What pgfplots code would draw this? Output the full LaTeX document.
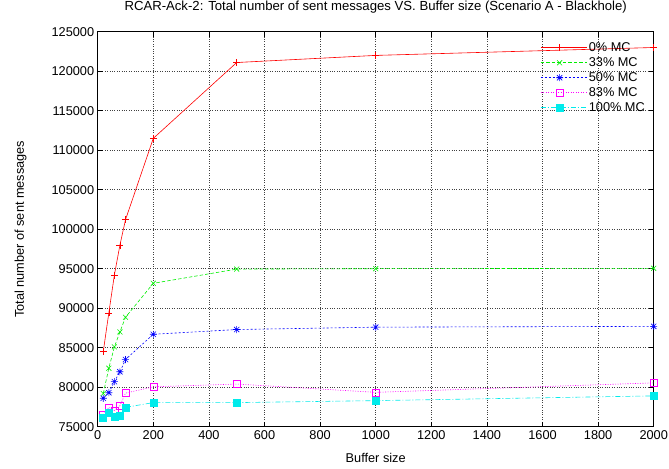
\documentclass[border=0pt]{standalone}
\usepackage{fontspec}
\setmainfont{Liberation Sans}
\usepackage{pgfplots}
\pgfplotsset{compat=1.18}
\definecolor{gpred}{RGB}{255,0,0}
\definecolor{gpgreen}{RGB}{0,238,0}
\definecolor{gpblue}{RGB}{0,0,255}
\definecolor{gpmagenta}{RGB}{255,0,255}
\definecolor{gpcyan}{RGB}{0,235,235}
\pgfdeclareplotmark{gpstar}{%
  \pgfpathmoveto{\pgfqpoint{-\pgfplotmarksize}{0pt}}\pgfpathlineto{\pgfqpoint{\pgfplotmarksize}{0pt}}%
  \pgfpathmoveto{\pgfqpoint{0pt}{-\pgfplotmarksize}}\pgfpathlineto{\pgfqpoint{0pt}{\pgfplotmarksize}}%
  \pgfpathmoveto{\pgfqpoint{-0.75\pgfplotmarksize}{-0.75\pgfplotmarksize}}\pgfpathlineto{\pgfqpoint{0.75\pgfplotmarksize}{0.75\pgfplotmarksize}}%
  \pgfpathmoveto{\pgfqpoint{-0.75\pgfplotmarksize}{0.75\pgfplotmarksize}}\pgfpathlineto{\pgfqpoint{0.75\pgfplotmarksize}{-0.75\pgfplotmarksize}}%
  \pgfusepathqstroke}
\begin{document}
\begin{tikzpicture}
\begin{axis}[
  name=ax,
  scale only axis, width=556bp, height=395bp,
  xmin=0, xmax=2000, ymin=75000, ymax=125000,
  xtick distance=200, ytick distance=5000,
  font=\fontsize{12.8}{15}\selectfont,
  /pgf/number format/assume math mode=true,
  xticklabel style={/pgf/number format/.cd,fixed,1000 sep={}},
  yticklabel style={/pgf/number format/.cd,fixed,1000 sep={}},
  scaled ticks=false,
  tick align=inside, tick pos=both, major tick length=5bp,
  tick style={black, line width=0.6pt},
  axis line style={line width=0.8pt},
  grid=major, grid style={black!75, dotted, line width=0.5pt},
  title={RCAR-Ack-2: Total number of sent messages VS. Buffer size (Scenario A - Blackhole)},
  title style={font=\fontsize{13.2}{15}\selectfont, at={(rel axis cs:0.5,1.0377)}, anchor=base},
  xlabel={Buffer size}, ylabel={Total number of sent messages},
  xlabel style={at={(rel axis cs:0.5,-0.0909)}, anchor=base},
  ylabel style={at={(rel axis cs:-0.1385,0.5)}, anchor=center, rotate=0},
  legend style={draw=none, fill=none, at={(rel axis cs:1,1)}, anchor=north east, xshift=-6.7bp, yshift=-8.4bp,
     inner sep=0pt, row sep=0pt, column sep=0pt,
     cells={anchor=west, inner sep=0pt, text height=9.5bp, text depth=3.7bp}},
  legend image code/.code={%
    \path (0bp,0bp) -- (45.7bp,0bp);
    \draw[mark repeat=2,mark phase=2,#1] plot coordinates {(0bp,0bp) (18.75bp,0bp) (37.5bp,0bp)};},
  mark size=3.5bp,
  every axis plot/.append style={line width=0.6pt},
]
\addplot[gpred, mark=+, mark options={solid}] coordinates {
(20,84500) (40,89400) (60,94200) (80,98000) (100,101200) (200,111500) (500,121100) (1000,122000) (2000,123000)};
\addlegendentry{0\% MC}
\addplot[gpgreen, dash pattern=on 3.5bp off 2bp, mark=x, mark options={solid}] coordinates {
(20,79200) (40,82400) (60,85100) (80,87000) (100,88850) (200,93150) (500,94950) (1000,95000) (2000,95050)};
\addlegendentry{33\% MC}
\addplot[gpblue, dash pattern=on 2bp off 2bp, mark=gpstar, mark options={solid}] coordinates {
(20,78600) (40,79300) (60,80700) (80,81950) (100,83500) (200,86700) (500,87300) (1000,87600) (2000,87700)};
\addlegendentry{50\% MC}
\addplot[gpmagenta, dash pattern=on 1bp off 1.5bp, mark=square, mark options={solid}] coordinates {
(20,76500) (40,77450) (60,77050) (80,77650) (100,79250) (200,80050) (500,80400) (1000,79350) (2000,80550)};
\addlegendentry{83\% MC}
\addplot[gpcyan, dash pattern=on 5bp off 2bp on 1bp off 2bp, mark=square*, mark options={solid}] coordinates {
(20,76150) (40,76700) (60,76200) (80,76400) (100,77450) (200,78050) (500,78050) (1000,78300) (2000,78900)};
\addlegendentry{100\% MC}
\end{axis}
\pgfresetboundingbox
\path ([shift={(-97.7bp,-42.3bp)}]ax.south west) rectangle ([shift={(15.3bp,31.7bp)}]ax.north east);
\end{tikzpicture}
\end{document}
